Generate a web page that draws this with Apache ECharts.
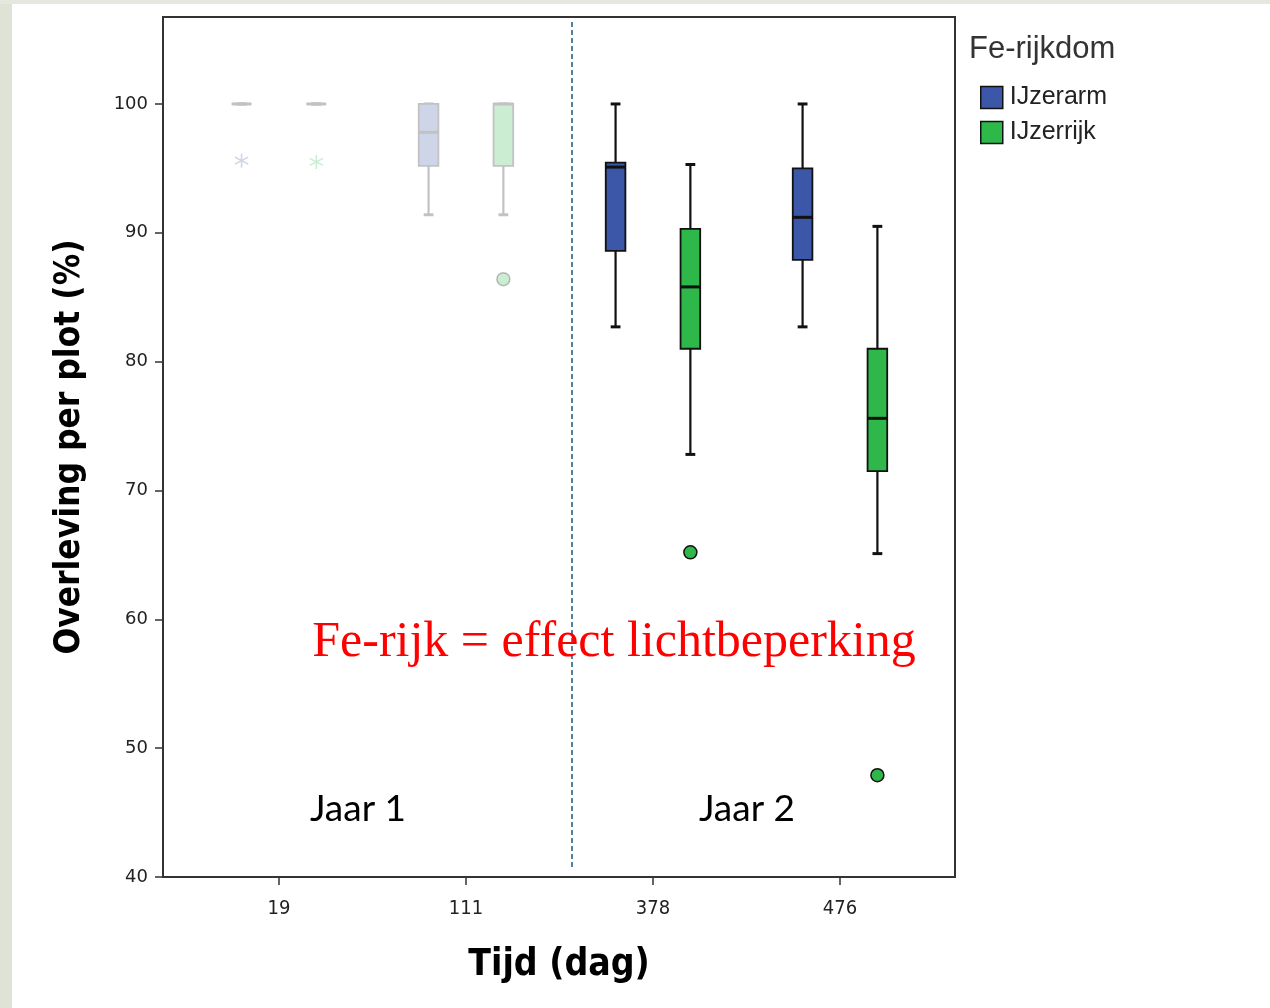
<!DOCTYPE html>
<html>
<head>
<meta charset="utf-8">
<script src="https://cdn.jsdelivr.net/npm/echarts@6/dist/echarts.min.js"></script>
<style>
  html, body { margin: 0; padding: 0; background: #fff; }
  #chart { width: 1270px; height: 1008px; }
</style>
</head>
<body>
<div id="chart"></div>
<script>
// tijdstippen (dag)
const times = ["19", "111", "378", "476"];
const faded = [true, true, false, false]; // jaar 1 vervaagd weergegeven

// boxen: [min, Q1, mediaan, Q3, max]
const ijzerarm = [
  [100, 100, 100, 100, 100],
  [91.4, 95.2, 97.8, 100, 100],
  [82.7, 88.6, 95.1, 95.45, 100],
  [82.7, 87.9, 91.2, 95.0, 100]
];
const ijzerrijk = [
  [100, 100, 100, 100, 100],
  [91.4, 95.2, 100, 100, 100],
  [72.8, 81.0, 85.8, 90.3, 95.3],
  [65.1, 71.5, 75.6, 81.0, 90.5]
];

// uitschieters [tijdindex, waarde]
const armOutliers = [];
const armExtremes = [[0, 95.6]];
const rijkOutliers = [[1, 86.4], [2, 65.2], [3, 47.9]];
const rijkExtremes = [[0, 95.5]];

const yTicks = [40, 50, 60, 70, 80, 90, 100];
const xTicks = [0, 1, 2, 3];

const BLUE = "#3c56a8";
const GREEN = "#2eb84a";
const SHIFT = 0.2; // afstand box t.o.v. tijdstip
const NARROW = "DejaVu Sans Condensed";
const ASTERISK =
  "path://M-0.1,-1L0.1,-1L0.1,1L-0.1,1Z" +
  "M0.816,-0.587L0.916,-0.413L-0.816,0.587L-0.916,0.413Z" +
  "M0.916,0.413L0.816,0.587L-0.916,-0.413L-0.816,-0.587Z";

const chart = echarts.init(document.getElementById("chart"));

function boxRenderer(color, shift) {
  return function (params, api) {
    const i = api.value(0);
    const x = i + shift;
    // vervaagde boxen: lichte kleuren i.p.v. opacity (anders stapelen lijnen)
    const stroke = faded[i] ? "#c2c2c2" : "#111";
    const fill = faded[i] ? echarts.color.lerp(0.25, ["#ffffff", color]) : color;
    const lo = api.coord([x, api.value(1)]);
    const q1 = api.coord([x, api.value(2)]);
    const md = api.coord([x, api.value(3)]);
    const q3 = api.coord([x, api.value(4)]);
    const hi = api.coord([x, api.value(5)]);
    const bw = api.size([0.105, 0])[0];
    const cw = bw / 2;
    const cx = lo[0];
    const line = (x1, y1, x2, y2, w) => ({
      type: "line",
      shape: { x1, y1, x2, y2 },
      style: { stroke, lineWidth: w }
    });
    return {
      type: "group",
      children: [
        line(cx, hi[1], cx, q3[1], 2.2),
        line(cx, q1[1], cx, lo[1], 2.2),
        line(cx - cw / 2, hi[1], cx + cw / 2, hi[1], 3),
        line(cx - cw / 2, lo[1], cx + cw / 2, lo[1], 3),
        {
          type: "rect",
          shape: { x: cx - bw / 2, y: q3[1], width: bw, height: q1[1] - q3[1] },
          style: { fill, stroke, lineWidth: 1.8 }
        },
        line(cx - bw / 2, md[1], cx + bw / 2, md[1], 3)
      ]
    };
  };
}

function points(list, shift) {
  return list.map(([i, v]) => ({
    value: [i + shift, v],
    itemStyle: { opacity: faded[i] ? 0.25 : 1 }
  }));
}

const option = {
  backgroundColor: "#fff",
  animation: false,
  title: {
    text: "Fe-rijkdom",
    left: 969,
    top: 34,
    padding: 0,
    textStyle: { fontFamily: "Liberation Sans", fontWeight: "normal", fontSize: 31, color: "#333" }
  },
  legend: {
    data: ["IJzerarm", "IJzerrijk"],
    orient: "vertical",
    left: 980,
    top: 85,
    padding: 0,
    itemWidth: 22,
    itemHeight: 22,
    itemGap: 10,
    icon: "rect",
    selectedMode: false,
    itemStyle: { borderColor: "#111", borderWidth: 1.5 },
    textStyle: { fontFamily: "Liberation Sans", fontSize: 25, color: "#222", padding: [4, 0, 0, 2] }
  },
  grid: {
    left: 163,
    right: 315,
    top: 17,
    bottom: 131,
    show: true,
    backgroundColor: "#fff",
    borderColor: "#333",
    borderWidth: 2
  },
  xAxis: {
    type: "value",
    min: -0.62,
    max: 3.615,
    name: "Tijd (dag)",
    nameLocation: "middle",
    nameGap: 70,
    nameTextStyle: { fontFamily: NARROW, fontWeight: "bold", fontSize: 37, color: "#000" },
    axisLine: { show: true, onZero: false, lineStyle: { color: "#333", width: 2 } },
    axisTick: { show: true, customValues: xTicks, length: 8, lineStyle: { color: "#333", width: 1.5 } },
    axisLabel: {
      customValues: xTicks,
      margin: 22,
      formatter: (v) => times[Math.round(v)],
      fontFamily: NARROW,
      fontSize: 20,
      color: "#222"
    },
    splitLine: { show: false }
  },
  yAxis: {
    type: "value",
    min: 40,
    max: 106.75,
    name: "Overleving per plot (%)",
    nameLocation: "middle",
    nameGap: 76,
    nameTextStyle: { fontFamily: NARROW, fontWeight: "bold", fontSize: 35, color: "#000" },
    axisLine: { show: true, onZero: false, lineStyle: { color: "#333", width: 2 } },
    axisTick: { show: true, customValues: yTicks, length: 8, lineStyle: { color: "#333", width: 1.5 } },
    axisLabel: {
      customValues: yTicks,
      margin: 15,
      fontFamily: "DejaVu Sans",
      fontSize: 18,
      color: "#222"
    },
    splitLine: { show: false }
  },
  graphic: [
    { type: "rect", left: 0, top: 0, shape: { width: 12, height: 1008 }, style: { fill: "#dfe3d5" }, z: -10 },
    { type: "rect", left: 0, top: 0, shape: { width: 1270, height: 4 }, style: { fill: "#e6e8df" }, z: -10 },
    {
      type: "text", x: 358, y: 809, z: 50,
      style: { text: "Jaar 1", fill: "#000", font: '37px Lato', align: "center", verticalAlign: "middle" }
    },
    {
      type: "text", x: 747, y: 809, z: 50,
      style: { text: "Jaar 2", fill: "#000", font: '37px Lato', align: "center", verticalAlign: "middle" }
    },
    {
      type: "text", x: 614, y: 643, z: 50,
      style: { text: "Fe-rijk = effect lichtbeperking", fill: "#ff0000", font: '50px "Liberation Serif"', align: "center", verticalAlign: "middle" }
    }
  ],
  series: [
    {
      name: "IJzerarm",
      type: "custom",
      itemStyle: { color: BLUE, borderColor: "#111" },
      encode: { x: 0, y: [1, 2, 3, 4, 5] },
      renderItem: boxRenderer(BLUE, -SHIFT),
      data: ijzerarm.map((s, i) => [i, ...s]),
      z: 5
    },
    {
      name: "IJzerrijk",
      type: "custom",
      itemStyle: { color: GREEN, borderColor: "#111" },
      encode: { x: 0, y: [1, 2, 3, 4, 5] },
      renderItem: boxRenderer(GREEN, SHIFT),
      data: ijzerrijk.map((s, i) => [i, ...s]),
      z: 5
    },
    {
      name: "uitschieters arm",
      type: "scatter",
      symbol: "circle",
      symbolSize: 13,
      itemStyle: { color: BLUE, borderColor: "#111", borderWidth: 1.5 },
      data: points(armOutliers, -SHIFT),
      z: 6
    },
    {
      name: "uitschieters rijk",
      type: "scatter",
      symbol: "circle",
      symbolSize: 13,
      itemStyle: { color: GREEN, borderColor: "#111", borderWidth: 1.5 },
      data: points(rijkOutliers, SHIFT),
      z: 6,
      markLine: {
        silent: true,
        symbol: "none",
        label: { show: false },
        lineStyle: { color: "#1d5a7e", width: 1.5, type: [5, 3] },
        data: [[{ coord: [1.567, 106.37] }, { coord: [1.567, 40.68] }]]
      }
    },
    {
      name: "extremen arm",
      type: "scatter",
      symbol: ASTERISK,
      symbolSize: 14,
      itemStyle: { color: BLUE },
      data: points(armExtremes, -SHIFT),
      z: 6
    },
    {
      name: "extremen rijk",
      type: "scatter",
      symbol: ASTERISK,
      symbolSize: 14,
      itemStyle: { color: GREEN },
      data: points(rijkExtremes, SHIFT),
      z: 6
    }
  ]
};

chart.setOption(option);
</script>
</body>
</html>
